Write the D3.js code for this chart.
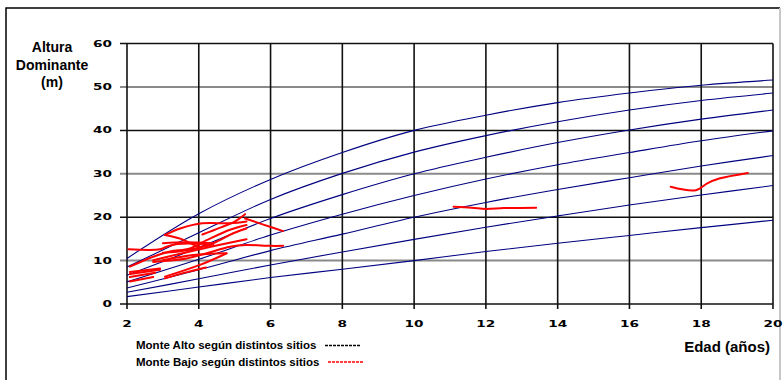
<!DOCTYPE html>
<html>
<head>
<meta charset="utf-8">
<script src="https://cdn.jsdelivr.net/npm/d3@7"></script>
<style>
  body { margin: 0; background: #fff; }
  svg { display: block; }
  text { font-family: "Liberation Sans", Arial, sans-serif; font-weight: bold; fill: #000; }
  .tick-lab { font-family: "DejaVu Sans", sans-serif; font-size: 8.5px; }
</style>
</head>
<body>
<svg></svg>
<script>
const size = {w: 783, h: 380};
const margin = {t: 43.6, r: 10, b: 76, l: 127};

// edades (x) donde se leyeron las curvas
const ages = [2, 4, 6, 8, 10, 12, 14, 16, 18, 20];
// curvas de sitio, monte alto (altura dominante en m)
const siteCurves = [
    [10.5, 20.8, 28.7, 34.9, 40, 43.5, 46.4, 48.6, 50.4, 51.6],
    [8.5, 16.4, 24.1, 30.1, 35, 38.8, 42, 44.7, 46.9, 48.6],
    [6.6, 13, 19.7, 25.2, 30, 33.8, 37.2, 40.1, 42.6, 44.7],
    [5.1, 10.3, 15.9, 20.7, 25, 28.8, 32.1, 34.9, 37.6, 39.9],
    [3.7, 7.9, 12.3, 16.1, 20, 23.4, 26.4, 29.1, 31.8, 34.2],
    [2.7, 5.8, 9, 12, 14.9, 17.7, 20.3, 22.8, 25.1, 27.3],
    [1.7, 3.9, 6.1, 8, 10, 12.1, 14, 15.8, 17.6, 19.3]
];
// monte bajo, trazos [edad, altura]
const lowForest = [
    [[2.04, 12.6], [2.92, 12.6], [3.1, 13.2], [3.4, 13.8], [4.0, 13.9], [4.4, 13.7]],
    [[3.06, 15.9], [3.48, 17.4], [4.1, 18.6], [4.87, 18.6], [5.33, 19.0]],
    [[4.1, 16.0], [4.6, 17.6], [5.0, 19.0], [5.29, 20.7]],
    [[5.29, 19.7], [5.8, 18.3], [6.35, 16.8]],
    [[3.06, 15.9], [3.5, 15.0], [4.03, 13.2], [4.4, 13.8]],
    [[3.0, 14.0], [3.6, 14.2], [4.36, 14.0]],
    [[3.0, 11.8], [3.66, 12.4], [4.4, 14.0], [4.96, 16.3], [5.33, 17.4]],
    [[2.08, 8.6], [2.73, 10.9], [3.2, 12.1], [3.75, 12.8], [4.22, 14.7], [4.87, 17.1], [5.33, 18.2]],
    [[2.73, 9.7], [3.66, 10.5], [4.22, 11.7], [4.87, 13.2], [5.33, 13.6], [5.98, 13.4], [6.35, 13.4]],
    [[2.73, 10.1], [4.13, 12.8], [5.33, 14.9]],
    [[3.0, 10.1], [3.85, 11.3], [4.76, 11.7]],
    [[2.08, 7.4], [2.92, 8.2]],
    [[2.08, 6.9], [2.92, 7.9]],
    [[2.08, 6.2], [2.78, 7.2]],
    [[2.08, 5.2], [2.73, 6.2]],
    [[3.06, 6.3], [4.03, 9.0], [4.78, 11.7]],
    [[3.06, 5.9], [3.7, 7.4], [4.2, 8.4]],
    [[11.1, 22.4], [11.6, 22.2], [12.0, 21.9], [12.5, 22.1], [13.4, 22.2]],
    [[17.15, 27.0], [17.85, 26.2], [18.17, 27.8], [18.5, 28.9], [19.3, 30.2]]
];
const xTicks = [2, 4, 6, 8, 10, 12, 14, 16, 18, 20];
const yTicks = [0, 10, 20, 30, 40, 50, 60];
const yTitle = ['Altura', 'Dominante', '(m)'];
const xTitle = 'Edad (años)';
const legendItems = ['Monte Alto según distintos sitios', 'Monte Bajo según distintos sitios'];

const svg = d3.select('svg')
    .attr('width', size.w)
    .attr('height', size.h);

// marco exterior (borde derecho casi fuera de cuadro, gris)
svg.append('path')
    .attr('d', 'M6,390V8H780')
    .attr('fill', 'none')
    .attr('stroke', '#000')
    .attr('stroke-width', 1.5);
svg.append('line')
    .attr('x1', 780).attr('x2', 780)
    .attr('y1', 8).attr('y2', 380)
    .attr('stroke', '#c8c8c8')
    .attr('stroke-width', 2);

const x = d3.scaleLinear().domain([2, 20]).range([margin.l, 773]);
const y = d3.scaleLinear().domain([0, 60]).range([304, margin.t]);

// grilla horizontal: alterna negro / gris
svg.append('g').selectAll('line')
    .data(yTicks)
    .enter().append('line')
    .attr('x1', x(2) - 7).attr('x2', x(20))
    .attr('y1', d => y(d)).attr('y2', d => y(d))
    .attr('stroke', d => (d / 10) % 2 ? '#8a8a8a' : '#111')
    .attr('stroke-width', d => (d / 10) % 2 ? 2 : 1.5);

// grilla vertical
svg.append('g').selectAll('line')
    .data(xTicks)
    .enter().append('line')
    .attr('x1', d => x(d)).attr('x2', d => x(d))
    .attr('y1', y(60)).attr('y2', y(0) + 5)
    .attr('stroke', '#111')
    .attr('stroke-width', 1.6);

// etiquetas de ejes (fuente ancha)
svg.append('g').selectAll('text')
    .data(yTicks)
    .enter().append('text')
    .attr('class', 'tick-lab')
    .attr('x', 112)
    .attr('y', d => y(d) + 3)
    .attr('text-anchor', 'end')
    .attr('textLength', d => String(d).length * 9.5)
    .attr('lengthAdjust', 'spacingAndGlyphs')
    .text(d => d);

svg.append('g').selectAll('text')
    .data(xTicks)
    .enter().append('text')
    .attr('class', 'tick-lab')
    .attr('x', d => x(d))
    .attr('y', 327)
    .attr('text-anchor', 'middle')
    .attr('textLength', d => String(d).length * 9.5)
    .attr('lengthAdjust', 'spacingAndGlyphs')
    .text(d => d);

// curvas monte alto
const line = d3.line()
    .x(d => x(d[0]))
    .y(d => y(d[1]))
    .curve(d3.curveCatmullRom);

svg.append('g').selectAll('path')
    .data(siteCurves)
    .enter().append('path')
    .attr('d', vals => line(vals.map((v, i) => [ages[i], v])))
    .attr('fill', 'none')
    .attr('stroke', '#000080')
    .attr('stroke-width', 1.1);

// trazos monte bajo
svg.append('g').selectAll('path')
    .data(lowForest)
    .enter().append('path')
    .attr('d', d => line(d))
    .attr('fill', 'none')
    .attr('stroke', '#ff0000')
    .attr('stroke-width', 2)
    .attr('stroke-linecap', 'round')
    .attr('stroke-linejoin', 'round');

// titulos
svg.append('text')
    .attr('text-anchor', 'middle')
    .style('font-size', '14px')
    .selectAll('tspan')
    .data(yTitle)
    .enter().append('tspan')
    .attr('x', 52)
    .attr('y', (d, i) => 52 + i * 17.5)
    .text(d => d);

svg.append('text')
    .attr('x', 770).attr('y', 352)
    .attr('text-anchor', 'end')
    .style('font-size', '15px')
    .text(xTitle);

// leyenda
const legend = svg.append('g');
legend.selectAll('text')
    .data(legendItems)
    .enter().append('text')
    .attr('x', 136)
    .attr('y', (d, i) => 349 + i * 16.5)
    .style('font-size', '11.5px')
    .text(d => d);
legend.selectAll('line')
    .data(['#000', '#ff0000'])
    .enter().append('line')
    .attr('x1', (d, i) => 325 + i * 3).attr('x2', (d, i) => 360 + i * 3)
    .attr('y1', (d, i) => 345.5 + i * 16.5).attr('y2', (d, i) => 345.5 + i * 16.5)
    .attr('stroke', d => d)
    .attr('stroke-width', 1.3)
    .attr('stroke-dasharray', '3,1');
</script>
</body>
</html>
